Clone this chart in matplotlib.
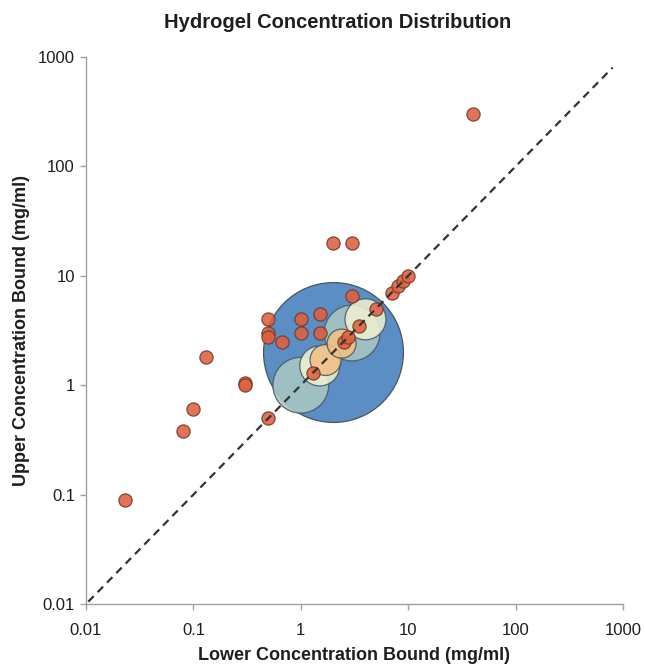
import numpy as np
import matplotlib
matplotlib.use("Agg")
import matplotlib.pyplot as plt

plt.rcParams['font.family'] = ['Liberation Sans', 'DejaVu Sans']

# individual hydrogel studies (lower bound, upper bound) in mg/ml
lower = [0.023, 0.08, 0.1, 0.13, 0.3, 0.3, 0.5, 0.5, 0.5, 0.5, 0.67,
         1.0, 1.0, 1.5, 1.5, 2.0, 3.0, 3.0, 1.3, 2.5, 2.75, 3.5, 5.0,
         7.0, 8.0, 9.0, 10.0, 40.0]
upper = [0.09, 0.38, 0.6, 1.8, 1.05, 1.0, 4.0, 3.0, 2.75, 0.5, 2.5,
         4.0, 3.0, 4.5, 3.0, 20.0, 20.0, 6.5, 1.3, 2.5, 2.75, 3.5, 5.0,
         7.0, 8.0, 9.0, 10.0, 300.0]

# grouped ranges drawn as bubbles (centre, relative weight)
bub_x = [2.0, 1.0, 3.0, 1.5, 4.0, 1.7, 2.4]
bub_y = [2.0, 1.0, 3.0, 1.5, 4.0, 1.7, 2.4]
bub_w = [49, 7.8, 7.8, 4.0, 4.2, 2.4, 2.1]
bub_c = ['#5a8ec4', '#a8c8c3', '#a8c8c3', '#eef0cf', '#eef0cf', '#f3c084', '#f3c084']

ticks = [0.01, 0.1, 1, 10, 100, 1000]
tick_lab = ['0.01', '0.1', '1', '10', '100', '1000']

fig = plt.figure(figsize=(6.45, 6.68), dpi=100)
ax = fig.add_axes([86/645, 1-604/668, 537/645, 547/668])

ax.set_xscale('log')
ax.set_yscale('log')
ax.set_xlim(0.01, 1000)
ax.set_ylim(0.01, 1000)

# big blue one solid, the smaller ones a bit see-through
ax.scatter(bub_x[:1], bub_y[:1], s=np.array(bub_w[:1])*207, c=bub_c[:1],
           edgecolors='#4a5560', linewidths=0.9, zorder=2)
ax.scatter(bub_x[1:], bub_y[1:], s=np.array(bub_w[1:])*207, c=bub_c[1:],
           edgecolors='#4a5560', linewidths=0.9, alpha=0.88, zorder=2)

ax.scatter(lower, upper, s=90, c='#e0603e', edgecolors='#6e3a2c',
           linewidths=0.9, alpha=0.88, zorder=3)

ax.plot([0.0105, 800], [0.0105, 800], ls=(0, (3.5, 2.5)), color='#333333',
        lw=1.6, zorder=4)

for s in ['top', 'right']:
    ax.spines[s].set_visible(False)
for s in ['left', 'bottom']:
    ax.spines[s].set_color('#a0a0a0')
    ax.spines[s].set_linewidth(1.0)

ax.set_xticks(ticks)
ax.set_xticklabels(tick_lab)
ax.set_yticks(ticks)
ax.set_yticklabels(tick_lab)
ax.minorticks_off()
ax.tick_params(axis='both', length=4, width=1.0, color='#a0a0a0',
               labelsize=12, labelcolor='#1e1e1e')
ax.tick_params(axis='x', pad=10)
ax.tick_params(axis='y', pad=4)

ax.set_xlabel('Lower Concentration Bound (mg/ml)', fontsize=13,
              fontweight='bold', color='#1e1e1e', labelpad=6)
ax.set_ylabel('Upper Concentration Bound (mg/ml)', fontsize=13,
              fontweight='bold', color='#1e1e1e', labelpad=6)

fig.text(338/645, 1-23/668, 'Hydrogel Concentration Distribution',
         ha='center', va='center', fontsize=14.5, fontweight='bold',
         color='#1e1e1e')

fig.savefig('out.png', dpi=100)
